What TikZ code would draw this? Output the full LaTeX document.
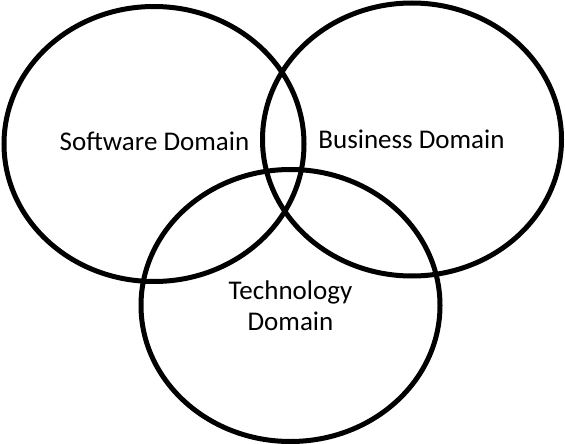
\documentclass[tikz,border=0pt]{standalone}
\usepackage{fontspec}
\setmainfont{Carlito}
\begin{document}
\begin{tikzpicture}[x=1pt,y=-1pt,
  vennset/.style={draw=black,line width=5pt},
  lbl/.style={inner sep=0pt,font=\fontsize{27}{31}\selectfont,align=center}]
\useasboundingbox (0,0) rectangle (565,444);
\draw[vennset] (154,144) ellipse [x radius=150, y radius=137.5];
\draw[vennset] (412,139.5) ellipse [x radius=149.5, y radius=136.5];
\draw[vennset] (290.5,305.5) ellipse [x radius=149.5, y radius=136];
\node[lbl,anchor=base] (sw) at (154.5,150.5) {Software Domain};
\node[lbl,anchor=base] (bd) at (411.5,148) {Business Domain};
\node[lbl,anchor=base] (td) at (290.5,330) {Technology\\Domain};
\end{tikzpicture}
\end{document}
